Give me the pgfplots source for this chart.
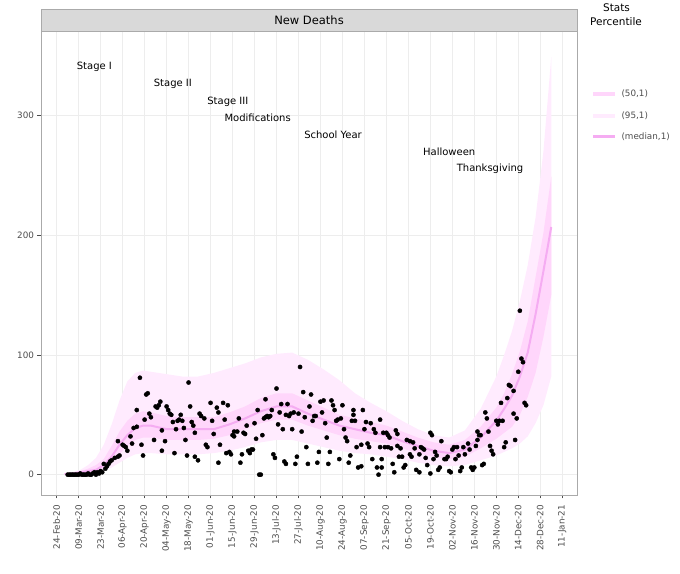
\documentclass[border=0pt]{standalone}
\usepackage{pgfplots}
\pgfplotsset{compat=1.18}
\usepackage{pgfplotstable}
\usepgfplotslibrary{fillbetween}
\usepackage{fontspec}
\setmainfont{DejaVu Sans}
\definecolor{b95}{RGB}{255,235,254}
\definecolor{b50}{RGB}{255,214,251}
\definecolor{medc}{RGB}{245,172,242}
\definecolor{gridc}{RGB}{237,237,237}
\definecolor{borderc}{RGB}{170,170,170}
\definecolor{stripc}{RGB}{217,217,217}
\definecolor{tickc}{RGB}{77,77,77}

\pgfplotstableread{
day lo95 lo50 med hi50 hi95
5 0 0.2 0.5 0.8 1
10 0 0.5 1 1.5 2
15 0.5 1 2 3 4
20 1 2 3 5 8
25 2 3 4 8 14
30 3 5 8 13 25
35 6 10 15 24 42
40 10 17 25 36 62
45 14 24 33 45 78
50 17 29 39 51 85
55 18 31 41 53 87
60 18 31 41 52 86
70 17 29 38 49 84
80 17 29 38 48 82
90 17 29 38 48 82
100 18 30 38 48 85
110 20 33 42 52 89
120 23 38 47 57 93
130 27 43 53 64 98
140 29 46 57 68 101
150 29 46 57 68 102
160 26 41 51 62 96
170 23 37 46 56 88
180 20 33 41 50 79
190 18 30 38 47 68
200 17 28 35 44 60
210 15 26 33 41 53
220 13 22 28 36 45
230 10 18 24 31 38
240 8 15 20 27 33
250 7 13 18 25 31
260 8 15 21 29 37
270 12 22 31 40 55
280 16 30 45 56 82
285 19 35 55 68 100
290 22 40 66 84 120
295 26 50 82 103 145
300 32 65 102 128 175
305 43 85 134 165 215
310 58 115 170 202 270
315 82 150 207 249 349
}\bands

\begin{document}
\begin{tikzpicture}
\begin{axis}[
  at={(41pt,78pt)}, anchor=south west,
  scale only axis, width=536pt, height=464pt,
  xmin=-10, xmax=331.4, ymin=-17, ymax=370.8,
  axis line style={borderc, line width=0.8pt},
  tick style={tickc, line width=0.5pt},
  tick align=outside, major tick length=3.5pt,
  xtick pos=left, ytick pos=left,
  grid=major, major grid style={gridc, line width=0.6pt},
  xtick={0,14,...,322},
  xticklabels={24-Feb-20,09-Mar-20,23-Mar-20,06-Apr-20,20-Apr-20,04-May-20,18-May-20,01-Jun-20,15-Jun-20,29-Jun-20,13-Jul-20,27-Jul-20,10-Aug-20,24-Aug-20,07-Sep-20,21-Sep-20,05-Oct-20,19-Oct-20,02-Nov-20,16-Nov-20,30-Nov-20,14-Dec-20,28-Dec-20,11-Jan-21},
  xticklabel style={rotate=90, anchor=east, font=\fontsize{8.8}{10}\selectfont, text=tickc},
  xticklabel shift=3pt,
  ytick={0,100,200,300},
  yticklabel style={font=\fontsize{8.8}{10}\selectfont, text=tickc},
  /pgf/number format/assume math mode=true,
]
\addplot[name path=h95, draw=none, forget plot] table[x=day,y=hi95]{\bands};
\addplot[name path=l95, draw=none, forget plot] table[x=day,y=lo95]{\bands};
\addplot[b95, forget plot] fill between[of=h95 and l95];
\addplot[name path=h50, draw=none, forget plot] table[x=day,y=hi50]{\bands};
\addplot[name path=l50, draw=none, forget plot] table[x=day,y=lo50]{\bands};
\addplot[b50, forget plot] fill between[of=h50 and l50];
\addplot[medc, line width=2pt, forget plot] table[x=day,y=med]{\bands};
\addplot[only marks, mark=*, mark size=2.1pt, mark options={fill=black, draw=black}] coordinates {
(7,0) (8,0) (9,0) (10,0) (11,0) (12,0) (13,0) (14,0) (15,1) (16,0) (17,0) (18,0) (19,0) (20,1) (21,0) (22,0) (23,1) (24,2) (25,0) (26,2) (27,1) (28,3) (29,2)
(30,9) (31,5) (32,7) (33,9) (34,11) (35,12) (37,14) (39,15) (40,16) (39,28) (42,25) (43,24) (44,23) (45,20) (47,32) (48,26) (49,39) (51,40) (51,54) (53,81) (54,25) (55,16) (56,46) (57,67) (58,68) (59,51) (60,48) (62,29) (63,57) (64,56) (65,58) (66,61) (67,37) (67,20) (69,28) (70,57) (71,54) (72,51) (73,50) (74,44) (75,18) (76,38) (77,45) (78,46) (79,50) (80,45) (81,39) (82,29) (83,16) (84,77) (85,57) (86,44) (87,41) (88,35) (88,15) (90,12) (91,51) (92,49) (94,47) (95,25) (96,23) (98,60) (99,45) (100,34) (102,56) (103,10) (103,52) (104,25)
(106,60) (107,46) (108,18) (109,58) (110,19) (111,17) (112,33) (113,32) (113,36) (115,36) (116,47) (117,10) (118,17) (119,35) (120,34) (121,41) (122,20) (123,18) (124,21) (125,21) (126,43) (127,30) (128,54) (129,0) (130,0) (131,33) (132,47) (133,63) (133,48) (134,49) (135,48) (136,49) (137,54) (138,17) (139,14) (140,72) (141,42) (142,52) (143,59) (144,38) (145,11) (146,9) (146,50) (147,59) (148,49) (149,51) (150,38) (151,52) (152,9) (153,15) (154,51) (155,90) (156,36) (157,69) (158,48) (159,23) (160,9) (161,57) (162,67) (163,45) (164,49) (165,49) (166,10) (167,19) (168,61) (169,52) (170,62) (171,43) (172,31) (173,9) (174,19) (175,62) (176,58) (177,54) (178,45) (179,46) (180,13) (181,47) (182,58) (183,38) (184,31) (185,28) (186,10) (187,16) (188,45) (189,50) (189,54) (190,45) (191,23) (192,6) (194,7) (194,25) (195,54) (196,38) (197,44) (198,26) (199,23) (200,43) (201,13) (202,38) (203,35) (204,6) (205,0) (206,23) (206,46) (207,13) (207,6) (208,35) (209,23) (210,35)
(211,23) (211,33) (212,31) (213,22) (214,9) (215,2) (216,37) (217,24) (217,34) (218,15) (219,22) (220,15) (221,6) (222,8) (223,29) (225,17) (225,28) (226,15) (227,27) (228,22) (229,4) (231,2) (231,17) (232,23) (233,22) (234,21) (235,14) (236,8) (238,1) (238,35) (239,33) (240,13) (241,19) (242,16) (243,4) (244,6) (245,28) (247,13) (248,13) (249,15) (250,3) (251,2) (252,21) (253,23) (254,13) (255,23) (256,16) (257,3) (258,6) (259,23) (260,17) (262,26) (263,21) (264,6) (265,4) (266,6) (267,24) (268,29) (268,36) (269,33) (270,33) (271,8) (272,9) (273,52) (274,47) (275,36) (276,24) (277,20) (278,17) (280,45) (281,42) (282,45) (283,60) (284,45) (285,23) (286,27) (287,64) (288,75) (289,74) (291,70) (291,51) (292,29) (293,47) (294,86) (295,137) (296,97) (297,94) (298,60) (299,58)
};
\node[font=\fontsize{10}{12}\selectfont] at (axis cs:24,341) {Stage I};
\node[font=\fontsize{10}{12}\selectfont] at (axis cs:74,327) {Stage II};
\node[font=\fontsize{10}{12}\selectfont] at (axis cs:109,312) {Stage III};
\node[font=\fontsize{10}{12}\selectfont] at (axis cs:128,298) {Modifications};
\node[font=\fontsize{10}{12}\selectfont] at (axis cs:176,284) {School Year};
\node[font=\fontsize{10}{12}\selectfont] at (axis cs:250,270) {Halloween};
\node[font=\fontsize{10}{12}\selectfont] at (axis cs:276,256) {Thanksgiving};
\end{axis}
\draw[borderc, fill=stripc, line width=0.8pt] (41pt,542pt) rectangle (577pt,563.7pt);
\node[font=\fontsize{11.5}{13}\selectfont] at (309pt,552.8pt) {New Deaths};
\node[font=\fontsize{10.5}{12}\selectfont] at (616.5pt,565pt) {Stats};
\node[font=\fontsize{10.5}{12}\selectfont] at (616pt,551pt) {Percentile};
\draw[b50, line width=4pt] (593pt,479pt) -- (615pt,479pt);
\draw[b95, line width=4pt] (593pt,457.3pt) -- (615pt,457.3pt);
\draw[medc, line width=3pt] (593pt,436.3pt) -- (615pt,436.3pt);
\node[anchor=west, font=\fontsize{8.8}{10}\selectfont, text=tickc] at (618pt,479pt) {(50,1)};
\node[anchor=west, font=\fontsize{8.8}{10}\selectfont, text=tickc] at (618pt,457.3pt) {(95,1)};
\node[anchor=west, font=\fontsize{8.8}{10}\selectfont, text=tickc] at (618pt,436.3pt) {(median,1)};
\path (0pt,0pt) rectangle (680pt,573pt);
\end{tikzpicture}
\end{document}
